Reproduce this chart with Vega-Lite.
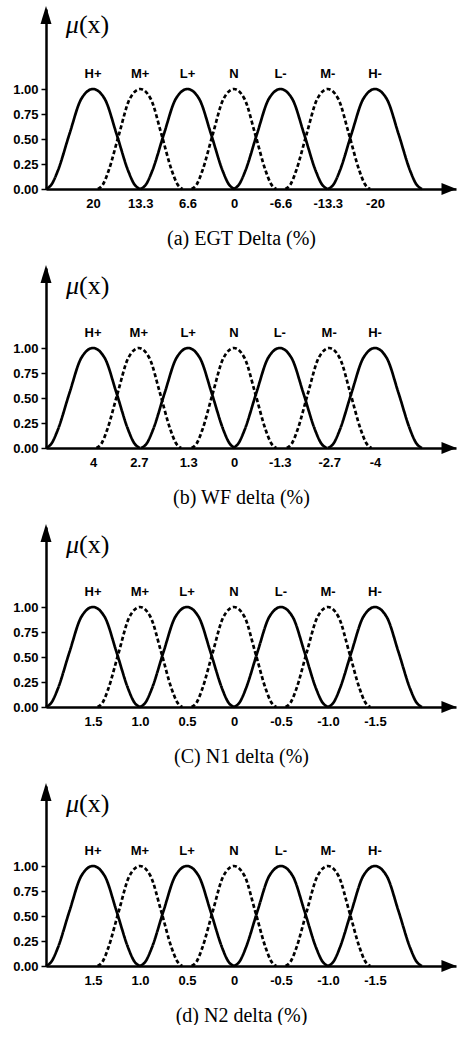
{
  "$schema": "https://vega.github.io/schema/vega-lite/v6.json",
  "background": "white",
  "padding": {"left": 12, "top": 5, "right": 0, "bottom": 0},
  "spacing": 16,
  "config": {
    "view": {"stroke": null},
    "font": "Liberation Sans",
    "axis": {"grid": false, "domainColor": "black", "domainWidth": 2.5, "tickColor": "black", "labelColor": "black", "labelFont": "Liberation Sans", "labelFontWeight": "bold", "labelFontSize": 13, "titleColor": "black"},
    "axisX": {"ticks": false, "tickSize": 0, "labelPadding": 8, "titleFont": "Liberation Serif", "titleFontWeight": "normal", "titleFontSize": 20, "titlePadding": 18, "titleX": 195, "labelFlush": false, "labelOverlap": false},
    "axisY": {"tickSize": 5, "tickWidth": 1.5, "labelPadding": 3}
  },
  "datasets": {
    "a": [
      {"c":"H+","x":26.67,"m":0},{"c":"H+","x":25.84,"m":0.05},{"c":"H+","x":25.0,"m":0.18},{"c":"H+","x":23.34,"m":0.55},{"c":"H+","x":21.67,"m":0.9},{"c":"H+","x":20,"m":1},{"c":"H+","x":18.33,"m":0.9},{"c":"H+","x":16.66,"m":0.55},{"c":"H+","x":15.0,"m":0.18},{"c":"H+","x":14.16,"m":0.05},{"c":"H+","x":13.33,"m":0},
      {"c":"M+","x":19.3,"m":0},{"c":"M+","x":18.55,"m":0.05},{"c":"M+","x":17.8,"m":0.18},{"c":"M+","x":16.3,"m":0.55},{"c":"M+","x":14.8,"m":0.9},{"c":"M+","x":13.3,"m":1},{"c":"M+","x":11.8,"m":0.9},{"c":"M+","x":10.3,"m":0.55},{"c":"M+","x":8.8,"m":0.18},{"c":"M+","x":8.05,"m":0.05},{"c":"M+","x":7.3,"m":0},
      {"c":"L+","x":13.27,"m":0},{"c":"L+","x":12.44,"m":0.05},{"c":"L+","x":11.6,"m":0.18},{"c":"L+","x":9.94,"m":0.55},{"c":"L+","x":8.27,"m":0.9},{"c":"L+","x":6.6,"m":1},{"c":"L+","x":4.93,"m":0.9},{"c":"L+","x":3.26,"m":0.55},{"c":"L+","x":1.6,"m":0.18},{"c":"L+","x":0.76,"m":0.05},{"c":"L+","x":-0.07,"m":0},
      {"c":"N","x":6.0,"m":0},{"c":"N","x":5.25,"m":0.05},{"c":"N","x":4.5,"m":0.18},{"c":"N","x":3.0,"m":0.55},{"c":"N","x":1.5,"m":0.9},{"c":"N","x":0,"m":1},{"c":"N","x":-1.5,"m":0.9},{"c":"N","x":-3.0,"m":0.55},{"c":"N","x":-4.5,"m":0.18},{"c":"N","x":-5.25,"m":0.05},{"c":"N","x":-6.0,"m":0},
      {"c":"L-","x":0.07,"m":0},{"c":"L-","x":-0.76,"m":0.05},{"c":"L-","x":-1.6,"m":0.18},{"c":"L-","x":-3.26,"m":0.55},{"c":"L-","x":-4.93,"m":0.9},{"c":"L-","x":-6.6,"m":1},{"c":"L-","x":-8.27,"m":0.9},{"c":"L-","x":-9.94,"m":0.55},{"c":"L-","x":-11.6,"m":0.18},{"c":"L-","x":-12.44,"m":0.05},{"c":"L-","x":-13.27,"m":0},
      {"c":"M-","x":-7.3,"m":0},{"c":"M-","x":-8.05,"m":0.05},{"c":"M-","x":-8.8,"m":0.18},{"c":"M-","x":-10.3,"m":0.55},{"c":"M-","x":-11.8,"m":0.9},{"c":"M-","x":-13.3,"m":1},{"c":"M-","x":-14.8,"m":0.9},{"c":"M-","x":-16.3,"m":0.55},{"c":"M-","x":-17.8,"m":0.18},{"c":"M-","x":-18.55,"m":0.05},{"c":"M-","x":-19.3,"m":0},
      {"c":"H-","x":-13.33,"m":0},{"c":"H-","x":-14.16,"m":0.05},{"c":"H-","x":-15.0,"m":0.18},{"c":"H-","x":-16.66,"m":0.55},{"c":"H-","x":-18.33,"m":0.9},{"c":"H-","x":-20,"m":1},{"c":"H-","x":-21.67,"m":0.9},{"c":"H-","x":-23.34,"m":0.55},{"c":"H-","x":-25.0,"m":0.18},{"c":"H-","x":-25.84,"m":0.05},{"c":"H-","x":-26.67,"m":0}
    ],
    "b": [
      {"c":"H+","x":5.333,"m":0},{"c":"H+","x":5.167,"m":0.05},{"c":"H+","x":5.0,"m":0.18},{"c":"H+","x":4.667,"m":0.55},{"c":"H+","x":4.333,"m":0.9},{"c":"H+","x":4,"m":1},{"c":"H+","x":3.667,"m":0.9},{"c":"H+","x":3.333,"m":0.55},{"c":"H+","x":3.0,"m":0.18},{"c":"H+","x":2.833,"m":0.05},{"c":"H+","x":2.667,"m":0},
      {"c":"M+","x":3.9,"m":0},{"c":"M+","x":3.75,"m":0.05},{"c":"M+","x":3.6,"m":0.18},{"c":"M+","x":3.3,"m":0.55},{"c":"M+","x":3.0,"m":0.9},{"c":"M+","x":2.7,"m":1},{"c":"M+","x":2.4,"m":0.9},{"c":"M+","x":2.1,"m":0.55},{"c":"M+","x":1.8,"m":0.18},{"c":"M+","x":1.65,"m":0.05},{"c":"M+","x":1.5,"m":0},
      {"c":"L+","x":2.633,"m":0},{"c":"L+","x":2.467,"m":0.05},{"c":"L+","x":2.3,"m":0.18},{"c":"L+","x":1.967,"m":0.55},{"c":"L+","x":1.633,"m":0.9},{"c":"L+","x":1.3,"m":1},{"c":"L+","x":0.967,"m":0.9},{"c":"L+","x":0.633,"m":0.55},{"c":"L+","x":0.3,"m":0.18},{"c":"L+","x":0.133,"m":0.05},{"c":"L+","x":-0.033,"m":0},
      {"c":"N","x":1.2,"m":0},{"c":"N","x":1.05,"m":0.05},{"c":"N","x":0.9,"m":0.18},{"c":"N","x":0.6,"m":0.55},{"c":"N","x":0.3,"m":0.9},{"c":"N","x":0,"m":1},{"c":"N","x":-0.3,"m":0.9},{"c":"N","x":-0.6,"m":0.55},{"c":"N","x":-0.9,"m":0.18},{"c":"N","x":-1.05,"m":0.05},{"c":"N","x":-1.2,"m":0},
      {"c":"L-","x":0.033,"m":0},{"c":"L-","x":-0.133,"m":0.05},{"c":"L-","x":-0.3,"m":0.18},{"c":"L-","x":-0.633,"m":0.55},{"c":"L-","x":-0.967,"m":0.9},{"c":"L-","x":-1.3,"m":1},{"c":"L-","x":-1.633,"m":0.9},{"c":"L-","x":-1.967,"m":0.55},{"c":"L-","x":-2.3,"m":0.18},{"c":"L-","x":-2.467,"m":0.05},{"c":"L-","x":-2.633,"m":0},
      {"c":"M-","x":-1.5,"m":0},{"c":"M-","x":-1.65,"m":0.05},{"c":"M-","x":-1.8,"m":0.18},{"c":"M-","x":-2.1,"m":0.55},{"c":"M-","x":-2.4,"m":0.9},{"c":"M-","x":-2.7,"m":1},{"c":"M-","x":-3.0,"m":0.9},{"c":"M-","x":-3.3,"m":0.55},{"c":"M-","x":-3.6,"m":0.18},{"c":"M-","x":-3.75,"m":0.05},{"c":"M-","x":-3.9,"m":0},
      {"c":"H-","x":-2.667,"m":0},{"c":"H-","x":-2.833,"m":0.05},{"c":"H-","x":-3.0,"m":0.18},{"c":"H-","x":-3.333,"m":0.55},{"c":"H-","x":-3.667,"m":0.9},{"c":"H-","x":-4,"m":1},{"c":"H-","x":-4.333,"m":0.9},{"c":"H-","x":-4.667,"m":0.55},{"c":"H-","x":-5.0,"m":0.18},{"c":"H-","x":-5.167,"m":0.05},{"c":"H-","x":-5.333,"m":0}
    ],
    "cd": [
      {"c":"H+","x":2.0,"m":0},{"c":"H+","x":1.938,"m":0.05},{"c":"H+","x":1.875,"m":0.18},{"c":"H+","x":1.75,"m":0.55},{"c":"H+","x":1.625,"m":0.9},{"c":"H+","x":1.5,"m":1},{"c":"H+","x":1.375,"m":0.9},{"c":"H+","x":1.25,"m":0.55},{"c":"H+","x":1.125,"m":0.18},{"c":"H+","x":1.063,"m":0.05},{"c":"H+","x":1.0,"m":0},
      {"c":"M+","x":1.45,"m":0},{"c":"M+","x":1.394,"m":0.05},{"c":"M+","x":1.338,"m":0.18},{"c":"M+","x":1.225,"m":0.55},{"c":"M+","x":1.113,"m":0.9},{"c":"M+","x":1.0,"m":1},{"c":"M+","x":0.888,"m":0.9},{"c":"M+","x":0.775,"m":0.55},{"c":"M+","x":0.663,"m":0.18},{"c":"M+","x":0.606,"m":0.05},{"c":"M+","x":0.55,"m":0},
      {"c":"L+","x":1.0,"m":0},{"c":"L+","x":0.938,"m":0.05},{"c":"L+","x":0.875,"m":0.18},{"c":"L+","x":0.75,"m":0.55},{"c":"L+","x":0.625,"m":0.9},{"c":"L+","x":0.5,"m":1},{"c":"L+","x":0.375,"m":0.9},{"c":"L+","x":0.25,"m":0.55},{"c":"L+","x":0.125,"m":0.18},{"c":"L+","x":0.063,"m":0.05},{"c":"L+","x":0.0,"m":0},
      {"c":"N","x":0.45,"m":0},{"c":"N","x":0.394,"m":0.05},{"c":"N","x":0.338,"m":0.18},{"c":"N","x":0.225,"m":0.55},{"c":"N","x":0.113,"m":0.9},{"c":"N","x":0,"m":1},{"c":"N","x":-0.113,"m":0.9},{"c":"N","x":-0.225,"m":0.55},{"c":"N","x":-0.338,"m":0.18},{"c":"N","x":-0.394,"m":0.05},{"c":"N","x":-0.45,"m":0},
      {"c":"L-","x":0.0,"m":0},{"c":"L-","x":-0.063,"m":0.05},{"c":"L-","x":-0.125,"m":0.18},{"c":"L-","x":-0.25,"m":0.55},{"c":"L-","x":-0.375,"m":0.9},{"c":"L-","x":-0.5,"m":1},{"c":"L-","x":-0.625,"m":0.9},{"c":"L-","x":-0.75,"m":0.55},{"c":"L-","x":-0.875,"m":0.18},{"c":"L-","x":-0.938,"m":0.05},{"c":"L-","x":-1.0,"m":0},
      {"c":"M-","x":-0.55,"m":0},{"c":"M-","x":-0.606,"m":0.05},{"c":"M-","x":-0.663,"m":0.18},{"c":"M-","x":-0.775,"m":0.55},{"c":"M-","x":-0.888,"m":0.9},{"c":"M-","x":-1.0,"m":1},{"c":"M-","x":-1.113,"m":0.9},{"c":"M-","x":-1.225,"m":0.55},{"c":"M-","x":-1.338,"m":0.18},{"c":"M-","x":-1.394,"m":0.05},{"c":"M-","x":-1.45,"m":0},
      {"c":"H-","x":-1.0,"m":0},{"c":"H-","x":-1.063,"m":0.05},{"c":"H-","x":-1.125,"m":0.18},{"c":"H-","x":-1.25,"m":0.55},{"c":"H-","x":-1.375,"m":0.9},{"c":"H-","x":-1.5,"m":1},{"c":"H-","x":-1.625,"m":0.9},{"c":"H-","x":-1.75,"m":0.55},{"c":"H-","x":-1.875,"m":0.18},{"c":"H-","x":-1.938,"m":0.05},{"c":"H-","x":-2.0,"m":0}
    ],
    "la": [{"c":"H+","x":20},{"c":"M+","x":13.3},{"c":"L+","x":6.6},{"c":"N","x":0},{"c":"L-","x":-6.6},{"c":"M-","x":-13.3},{"c":"H-","x":-20}],
    "lb": [{"c":"H+","x":4},{"c":"M+","x":2.7},{"c":"L+","x":1.3},{"c":"N","x":0},{"c":"L-","x":-1.3},{"c":"M-","x":-2.7},{"c":"H-","x":-4}],
    "lcd": [{"c":"H+","x":1.5},{"c":"M+","x":1.0},{"c":"L+","x":0.5},{"c":"N","x":0},{"c":"L-","x":-0.5},{"c":"M-","x":-1.0},{"c":"H-","x":-1.5}],
    "mu": [{"s":"μ"}],
    "px": [{"s":"(x)"}],
    "one": [{"s":"arrow"}]
  },
  "vconcat": [
    {
      "width": 410, "height": 180,
      "layer": [
        {"data": {"name": "a"}, "mark": {"type": "line", "interpolate": "monotone", "color": "black", "strokeWidth": 2.7},
         "encoding": {
           "x": {"field": "x", "type": "quantitative", "scale": {"domain": [-31.49, 26.667], "reverse": true, "nice": false, "zero": false},
                 "axis": {"values": [20, 13.3, 6.6, 0, -6.6, -13.3, -20], "labelExpr": "(datum.value < 0 ? '-' : '') + format(abs(datum.value), '~g')", "title": "(a) EGT Delta (%)"}},
           "y": {"field": "m", "type": "quantitative", "scale": {"domain": [0, 1.8], "nice": false, "zero": false}, "axis": {"values": [0, 0.25, 0.5, 0.75, 1], "format": ".2f", "title": null}},
           "detail": {"field": "c"},
           "strokeDash": {"field": "c", "type": "nominal", "legend": null, "scale": {"domain": ["H+","M+","L+","N","L-","M-","H-"], "range": [[1,0],[4,2.5],[1,0],[4,2.5],[1,0],[4,2.5],[1,0]]}}
         }},
        {"data": {"name": "la"}, "mark": {"type": "text", "font": "Liberation Sans", "fontWeight": "bold", "fontSize": 13, "color": "black"},
         "encoding": {"x": {"field": "x", "type": "quantitative"}, "y": {"datum": 1.155}, "text": {"field": "c"}}},
        {"data": {"name": "mu"}, "mark": {"type": "text", "font": "Liberation Serif", "fontStyle": "italic", "fontSize": 26, "align": "right", "baseline": "middle", "color": "black"},
         "encoding": {"x": {"datum": 22.0}, "y": {"datum": 1.64}, "text": {"field": "s"}}},
        {"data": {"name": "px"}, "mark": {"type": "text", "font": "Liberation Serif", "fontSize": 26, "align": "left", "baseline": "middle", "color": "black"},
         "encoding": {"x": {"datum": 22.0}, "y": {"datum": 1.64}, "text": {"field": "s"}}},
        {"data": {"name": "one"}, "mark": {"type": "point", "shape": "M0,-1L0.61,1L-0.61,1Z", "filled": true, "color": "black", "size": 324, "opacity": 1},
         "encoding": {"x": {"datum": 26.667}, "y": {"datum": 1.74}}},
        {"data": {"name": "one"}, "mark": {"type": "point", "shape": "M1,0L-1,-0.8L-1,0.8Z", "filled": true, "color": "black", "size": 225, "opacity": 1},
         "encoding": {"x": {"datum": -30.5}, "y": {"datum": 0}}}
      ]
    },
    {
      "width": 410, "height": 180,
      "layer": [
        {"data": {"name": "b"}, "mark": {"type": "line", "interpolate": "monotone", "color": "black", "strokeWidth": 2.7},
         "encoding": {
           "x": {"field": "x", "type": "quantitative", "scale": {"domain": [-6.298, 5.333], "reverse": true, "nice": false, "zero": false},
                 "axis": {"values": [4, 2.7, 1.3, 0, -1.3, -2.7, -4], "labelExpr": "(datum.value < 0 ? '-' : '') + format(abs(datum.value), '~g')", "title": "(b) WF delta (%)"}},
           "y": {"field": "m", "type": "quantitative", "scale": {"domain": [0, 1.8], "nice": false, "zero": false}, "axis": {"values": [0, 0.25, 0.5, 0.75, 1], "format": ".2f", "title": null}},
           "detail": {"field": "c"},
           "strokeDash": {"field": "c", "type": "nominal", "legend": null, "scale": {"domain": ["H+","M+","L+","N","L-","M-","H-"], "range": [[1,0],[4,2.5],[1,0],[4,2.5],[1,0],[4,2.5],[1,0]]}}
         }},
        {"data": {"name": "lb"}, "mark": {"type": "text", "font": "Liberation Sans", "fontWeight": "bold", "fontSize": 13, "color": "black"},
         "encoding": {"x": {"field": "x", "type": "quantitative"}, "y": {"datum": 1.155}, "text": {"field": "c"}}},
        {"data": {"name": "mu"}, "mark": {"type": "text", "font": "Liberation Serif", "fontStyle": "italic", "fontSize": 26, "align": "right", "baseline": "middle", "color": "black"},
         "encoding": {"x": {"datum": 4.397}, "y": {"datum": 1.62}, "text": {"field": "s"}}},
        {"data": {"name": "px"}, "mark": {"type": "text", "font": "Liberation Serif", "fontSize": 26, "align": "left", "baseline": "middle", "color": "black"},
         "encoding": {"x": {"datum": 4.397}, "y": {"datum": 1.62}, "text": {"field": "s"}}},
        {"data": {"name": "one"}, "mark": {"type": "point", "shape": "M0,-1L0.61,1L-0.61,1Z", "filled": true, "color": "black", "size": 324, "opacity": 1},
         "encoding": {"x": {"datum": 5.333}, "y": {"datum": 1.74}}},
        {"data": {"name": "one"}, "mark": {"type": "point", "shape": "M1,0L-1,-0.8L-1,0.8Z", "filled": true, "color": "black", "size": 225, "opacity": 1},
         "encoding": {"x": {"datum": -6.1}, "y": {"datum": 0}}}
      ]
    },
    {
      "width": 410, "height": 180,
      "layer": [
        {"data": {"name": "cd"}, "mark": {"type": "line", "interpolate": "monotone", "color": "black", "strokeWidth": 2.7},
         "encoding": {
           "x": {"field": "x", "type": "quantitative", "scale": {"domain": [-2.362, 2.0], "reverse": true, "nice": false, "zero": false},
                 "axis": {"values": [1.5, 1.0, 0.5, 0, -0.5, -1.0, -1.5], "labelExpr": "datum.value == 0 ? '0' : (datum.value < 0 ? '-' : '') + format(abs(datum.value), '.1f')", "title": "(C) N1 delta (%)"}},
           "y": {"field": "m", "type": "quantitative", "scale": {"domain": [0, 1.8], "nice": false, "zero": false}, "axis": {"values": [0, 0.25, 0.5, 0.75, 1], "format": ".2f", "title": null}},
           "detail": {"field": "c"},
           "strokeDash": {"field": "c", "type": "nominal", "legend": null, "scale": {"domain": ["H+","M+","L+","N","L-","M-","H-"], "range": [[1,0],[4,2.5],[1,0],[4,2.5],[1,0],[4,2.5],[1,0]]}}
         }},
        {"data": {"name": "lcd"}, "mark": {"type": "text", "font": "Liberation Sans", "fontWeight": "bold", "fontSize": 13, "color": "black"},
         "encoding": {"x": {"field": "x", "type": "quantitative"}, "y": {"datum": 1.155}, "text": {"field": "c"}}},
        {"data": {"name": "mu"}, "mark": {"type": "text", "font": "Liberation Serif", "fontStyle": "italic", "fontSize": 26, "align": "right", "baseline": "middle", "color": "black"},
         "encoding": {"x": {"datum": 1.649}, "y": {"datum": 1.62}, "text": {"field": "s"}}},
        {"data": {"name": "px"}, "mark": {"type": "text", "font": "Liberation Serif", "fontSize": 26, "align": "left", "baseline": "middle", "color": "black"},
         "encoding": {"x": {"datum": 1.649}, "y": {"datum": 1.62}, "text": {"field": "s"}}},
        {"data": {"name": "one"}, "mark": {"type": "point", "shape": "M0,-1L0.61,1L-0.61,1Z", "filled": true, "color": "black", "size": 324, "opacity": 1},
         "encoding": {"x": {"datum": 2.0}, "y": {"datum": 1.74}}},
        {"data": {"name": "one"}, "mark": {"type": "point", "shape": "M1,0L-1,-0.8L-1,0.8Z", "filled": true, "color": "black", "size": 225, "opacity": 1},
         "encoding": {"x": {"datum": -2.287}, "y": {"datum": 0}}}
      ]
    },
    {
      "width": 410, "height": 180,
      "layer": [
        {"data": {"name": "cd"}, "mark": {"type": "line", "interpolate": "monotone", "color": "black", "strokeWidth": 2.7},
         "encoding": {
           "x": {"field": "x", "type": "quantitative", "scale": {"domain": [-2.362, 2.0], "reverse": true, "nice": false, "zero": false},
                 "axis": {"values": [1.5, 1.0, 0.5, 0, -0.5, -1.0, -1.5], "labelExpr": "datum.value == 0 ? '0' : (datum.value < 0 ? '-' : '') + format(abs(datum.value), '.1f')", "title": "(d) N2 delta (%)"}},
           "y": {"field": "m", "type": "quantitative", "scale": {"domain": [0, 1.8], "nice": false, "zero": false}, "axis": {"values": [0, 0.25, 0.5, 0.75, 1], "format": ".2f", "title": null}},
           "detail": {"field": "c"},
           "strokeDash": {"field": "c", "type": "nominal", "legend": null, "scale": {"domain": ["H+","M+","L+","N","L-","M-","H-"], "range": [[1,0],[4,2.5],[1,0],[4,2.5],[1,0],[4,2.5],[1,0]]}}
         }},
        {"data": {"name": "lcd"}, "mark": {"type": "text", "font": "Liberation Sans", "fontWeight": "bold", "fontSize": 13, "color": "black"},
         "encoding": {"x": {"field": "x", "type": "quantitative"}, "y": {"datum": 1.155}, "text": {"field": "c"}}},
        {"data": {"name": "mu"}, "mark": {"type": "text", "font": "Liberation Serif", "fontStyle": "italic", "fontSize": 26, "align": "right", "baseline": "middle", "color": "black"},
         "encoding": {"x": {"datum": 1.649}, "y": {"datum": 1.62}, "text": {"field": "s"}}},
        {"data": {"name": "px"}, "mark": {"type": "text", "font": "Liberation Serif", "fontSize": 26, "align": "left", "baseline": "middle", "color": "black"},
         "encoding": {"x": {"datum": 1.649}, "y": {"datum": 1.62}, "text": {"field": "s"}}},
        {"data": {"name": "one"}, "mark": {"type": "point", "shape": "M0,-1L0.61,1L-0.61,1Z", "filled": true, "color": "black", "size": 324, "opacity": 1},
         "encoding": {"x": {"datum": 2.0}, "y": {"datum": 1.74}}},
        {"data": {"name": "one"}, "mark": {"type": "point", "shape": "M1,0L-1,-0.8L-1,0.8Z", "filled": true, "color": "black", "size": 225, "opacity": 1},
         "encoding": {"x": {"datum": -2.287}, "y": {"datum": 0}}}
      ]
    }
  ]
}
